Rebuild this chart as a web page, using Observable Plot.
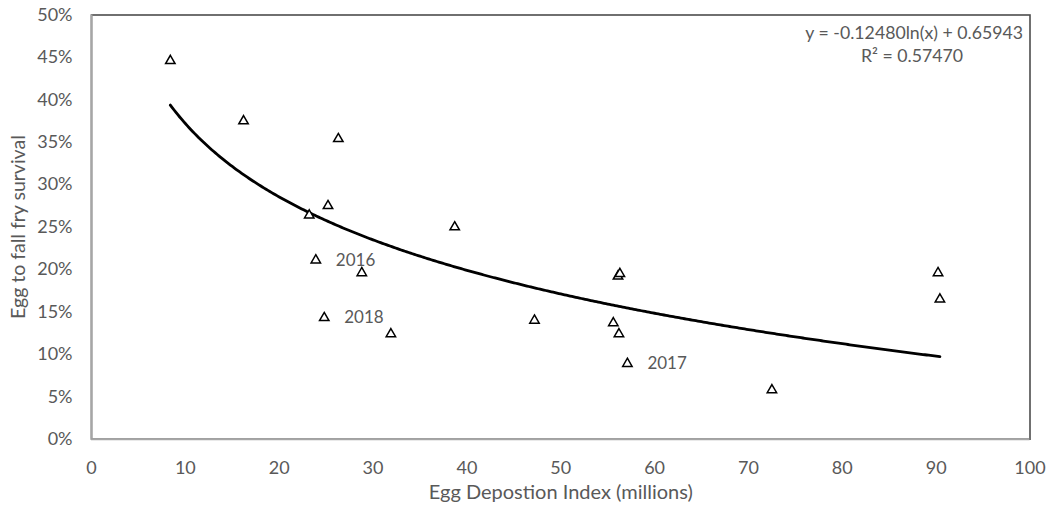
<!DOCTYPE html>
<html>
<head>
<meta charset="utf-8">
<script src="https://cdn.jsdelivr.net/npm/d3@7"></script>
<script src="https://cdn.jsdelivr.net/npm/@observablehq/plot@0.6"></script>
<style>
  html, body { margin: 0; padding: 0; background: #fff; }
  #chart svg { display: block; }
</style>
</head>
<body>
<div id="chart"></div>
<script>
// Observed data (Egg deposition index in millions, survival fraction)
const eggIndex = [8.4, 16.2, 26.3, 23.2, 25.2, 38.7, 23.9, 28.8, 24.8, 31.9, 47.2, 55.6, 56.2, 56.1, 56.3, 57.1, 72.5, 90.2, 90.4];
const survival = [0.446, 0.375, 0.354, 0.264, 0.275, 0.250, 0.211, 0.196, 0.143, 0.124, 0.140, 0.137, 0.124, 0.192, 0.195, 0.089, 0.058, 0.196, 0.165];
const yearLabels = ["", "", "", "", "", "", "2016", "", "2018", "", "", "", "", "", "", "2017", "", "", ""];

// Logarithmic trendline from the chart's equation
const trendA = -0.12480;
const trendB = 0.65943;
const trendR2 = 0.57470;
const trendRange = [8.4, 90.4];

const xTicks = [0, 10, 20, 30, 40, 50, 60, 70, 80, 90, 100];
const yTicks = [0, 0.05, 0.10, 0.15, 0.20, 0.25, 0.30, 0.35, 0.40, 0.45, 0.50];

const points = eggIndex.map((x, i) => ({x, y: survival[i], label: yearLabels[i]}));
const labeled = points.filter(d => d.label);
const trend = d3.range(trendRange[0], trendRange[1] + 0.001, 0.2)
  .concat([trendRange[1]])
  .map(x => ({x, y: trendA * Math.log(x) + trendB}));

const font = "Lato, 'Open Sans', sans-serif";
const grey = "#595959";

const chart = Plot.plot({
  width: 1049,
  height: 514,
  marginLeft: 91,
  marginRight: 19.5,
  marginTop: 14.5,
  marginBottom: 75.3,
  style: {fontFamily: font, fontSize: "18px", color: grey, background: "#fff"},
  x: {domain: [0, 100], ticks: xTicks, tickSize: 0, label: null},
  y: {domain: [0, 0.5], ticks: yTicks, tickSize: 0, tickFormat: d3.format(".0%"), label: null},
  marks: [
    Plot.frame({stroke: "#4d4d4d", strokeWidth: 1.6}),
    Plot.ruleX([0], {stroke: "#a6a6a6", strokeWidth: 2}),
    Plot.ruleY([0], {stroke: "#a6a6a6", strokeWidth: 2}),
    Plot.axisX({ticks: xTicks, tickSize: 0, tickPadding: 22, fill: grey, fontSize: 18, label: null}),
    Plot.axisY({ticks: yTicks, tickSize: 0, tickPadding: 19, fill: grey, fontSize: 18, tickFormat: d3.format(".0%"), label: null}),
    Plot.text(["Egg Depostion Index (millions)"], {frameAnchor: "bottom", lineAnchor: "middle", dy: 53.5, fill: grey, fontSize: 20}),
    Plot.text(["Egg to fall fry survival"], {frameAnchor: "left", textAnchor: "middle", dx: -73, rotate: -90, fill: grey, fontSize: 19.5}),
    Plot.line(trend, {x: "x", y: "y", stroke: "#000", strokeWidth: 2.8, curve: "linear"}),
    Plot.dot(points, {x: "x", y: "y", symbol: "triangle", r: 3.5, stroke: "#000", strokeWidth: 1.5, fill: "#fff"}),
    Plot.text(labeled, {x: "x", y: "y", text: "label", dx: 20, textAnchor: "start", fill: grey, fontSize: 17}),
    Plot.text([`y = ${trendA.toFixed(5)}ln(x) + ${trendB.toFixed(5)}`], {frameAnchor: "top-right", dx: -7, dy: 11, fill: grey, fontSize: 17.7, textAnchor: "end"}),
    Plot.text([`R² = ${trendR2.toFixed(5)}`], {frameAnchor: "top-right", dx: -67, dy: 34, fill: grey, fontSize: 17.7, textAnchor: "end"})
  ]
});
document.getElementById("chart").appendChild(chart);
</script>
</body>
</html>
